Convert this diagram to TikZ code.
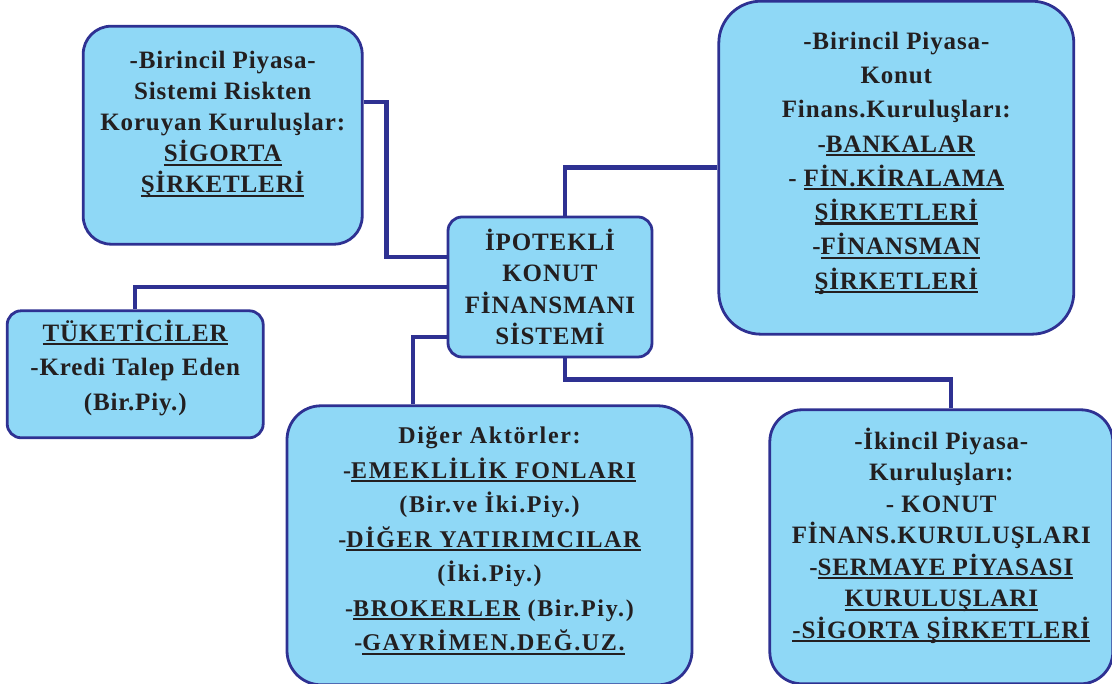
\documentclass[tikz,border=0pt]{standalone}
\usepackage{fontspec}
\setmainfont{Liberation Serif}[LetterSpace=3.5]
\usetikzlibrary{positioning}

\definecolor{boxfill}{RGB}{143,216,246}
\definecolor{boxline}{RGB}{46,49,146}
\definecolor{inkblack}{RGB}{35,31,32}

% thick underline as in the scanned chart
\newcommand{\ulin}[1]{\sbox0{#1}\rlap{\rule[-4pt]{\wd0}{2.2pt}}\usebox0}

\begin{document}
\begin{tikzpicture}[
  x=1pt, y=1pt,
  box/.style={
    rectangle, draw=boxline, fill=boxfill,
    line width=2.8pt, align=center, text=inkblack,
    font=\fontsize{25}{31}\selectfont\bfseries,
    inner sep=2pt
  },
  link/.style={draw=boxline, line width=4.5pt}
]
  \useasboundingbox (0,0) rectangle (1112,684);

  \node [box, rounded corners=14pt, minimum width=204pt, minimum height=140pt,
    font=\fontsize{25}{31.5}\selectfont\bfseries] (ipo) at (550,397)
    {İPOTEKLİ\\ KONUT\\ FİNANSMANI\\ SİSTEMİ};
  \node [box, rounded corners=28pt, minimum width=279pt, minimum height=218pt,
    above left=-30pt and 83pt of ipo] (sig)
    {-Birincil Piyasa-\\ Sistemi Riskten\\ Koruyan Kuruluşlar:\\
     \ulin{SİGORTA}\\ \ulin{ŞİRKETLERİ}\\[-5pt]\mbox{}};
  \node [box, rounded corners=42pt, minimum width=355pt, minimum height=333pt,
    font=\fontsize{25}{34.3}\selectfont\bfseries,
    above right=-120pt and 64pt of ipo] (bank)
    {-Birincil Piyasa-\\ Konut\\ Finans.Kuruluşları:\\ -\ulin{BANKALAR}\\
     - \ulin{FİN.KİRALAMA}\\ \ulin{ŞİRKETLERİ}\\ -\ulin{FİNANSMAN}\\
     \ulin{ŞİRKETLERİ}\\[-20pt]\mbox{}};
  \node [box, rounded corners=14pt, minimum width=256pt, minimum height=127pt,
    font=\fontsize{25}{34.5}\selectfont\bfseries,
    below left=-49pt and 182pt of ipo] (tuk)
    {\ulin{TÜKETİCİLER}\\ -Kredi Talep Eden\\ (Bir.Piy.)\\[-16pt]\mbox{}};
  \node [box, rounded corners=34pt, minimum width=405pt, minimum height=279pt,
    font=\fontsize{24}{34.5}\selectfont\bfseries\addfontfeatures{LetterSpace=7},
    below=46pt of ipo, xshift=-60.5pt] (dig)
    {Diğer Aktörler:\\ -\ulin{EMEKLİLİK FONLARI}\\ (Bir.ve İki.Piy.)\\
     -\ulin{DİĞER YATIRIMCILAR}\\ (İki.Piy.)\\ -\ulin{BROKERLER} (Bir.Piy.)\\
     -\ulin{GAYRİMEN.DEĞ.UZ.}\\[-22pt]\mbox{}};
  \node [box, rounded corners=32pt, minimum width=343pt, minimum height=274pt,
    font=\fontsize{25}{31.5}\selectfont\bfseries,
    below right=50pt and 115pt of ipo] (iki)
    {-İkincil Piyasa-\\ Kuruluşları:\\ - KONUT\\ FİNANS.KURULUŞLARI\\
     -\ulin{SERMAYE PİYASASI}\\ \ulin{KURULUŞLARI}\\ \ulin{-SİGORTA ŞİRKETLERİ}\\[-4pt]\mbox{}};

  \path [link] ([yshift=33pt]sig.east) -- ++(23pt,0) |- ([yshift=30pt]ipo.west);
  \path [link] (tuk.north) |- (ipo.west);
  \path [link] ([yshift=-50pt]ipo.west) -| ([xshift=-76.5pt]dig.north);
  \path [link] ([xshift=15pt]ipo.north) |- (bank.west);
  \path [link] ([xshift=15pt]ipo.south) -- ++(0,-21pt) -| ([xshift=9.5pt]iki.north);

\end{tikzpicture}
\end{document}
